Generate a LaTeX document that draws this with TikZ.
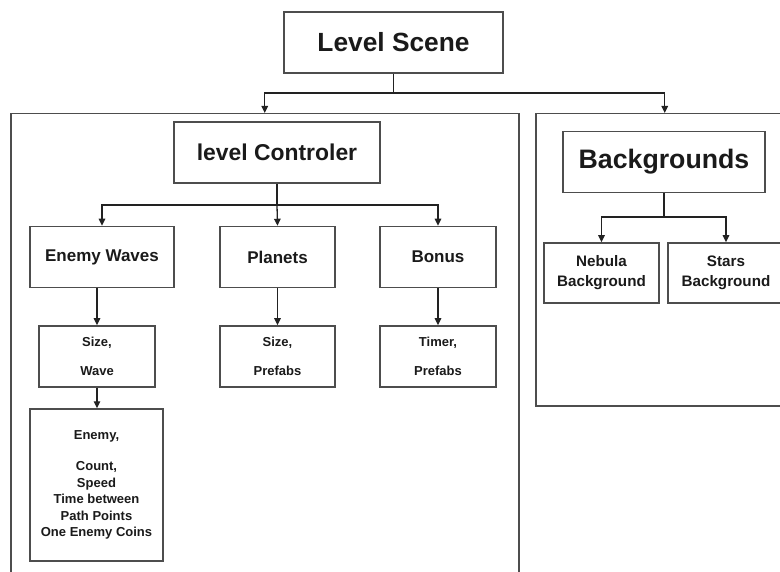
\documentclass[tikz,border=0pt]{standalone}
\usepackage{fontspec}
\setmainfont{Liberation Sans}
\usetikzlibrary{arrows.meta}
\definecolor{edge}{HTML}{4D4D4D}
\definecolor{ink}{HTML}{1A1A1A}
\begin{document}
\begin{tikzpicture}[x=1pt,y=-1pt,
  box/.style={draw=edge, line width=1.5pt, inner sep=0pt, align=center,
    text=ink, font=\bfseries},
  frame/.style={draw=edge, line width=1.5pt, inner sep=0pt, anchor=north west},
  link/.style={draw=ink!85!edge, line width=1.3pt},
  arr/.style={link, -{Triangle[length=7pt,width=6.5pt]}}]
\clip (0,0) rectangle (780,572);
\fill[white] (0,0) rectangle (780,572);

% outer frames
\node[frame, minimum width=508pt, minimum height=480pt] (left) at (10,113) {};
\node[frame, minimum width=258pt, minimum height=292pt] (right) at (535,113) {};

% top level
\node[box, minimum width=219pt, minimum height=61pt,
  font=\bfseries\fontsize{26.3}{30}\selectfont] (scene) at (393.5,42.5) {Level Scene};

% left branch
\node[box, minimum width=206pt, minimum height=61pt,
  font=\bfseries\fontsize{22.9}{26}\selectfont] (ctrl) at (277,152.5) {level Controler};
\node[box, minimum width=144pt, minimum height=61pt,
  font=\bfseries\fontsize{17}{20}\selectfont] (waves) at (102,257) {Enemy Waves};
\node[box, minimum width=115pt, minimum height=61pt,
  font=\bfseries\fontsize{17}{20}\selectfont] (planets) at (277.5,257) {Planets};
\node[box, minimum width=116pt, minimum height=61pt,
  font=\bfseries\fontsize{17}{20}\selectfont] (bonus) at (438,257) {Bonus};

\node[box, minimum width=116pt, minimum height=61pt,
  font=\bfseries\fontsize{13}{15}\selectfont] (wsize) at (97,356.5) {Size,\\[14pt]Wave};
\node[box, minimum width=115pt, minimum height=61pt,
  font=\bfseries\fontsize{13}{15}\selectfont] (psize) at (277.5,356.5) {Size,\\[14pt]Prefabs};
\node[box, minimum width=116pt, minimum height=61pt,
  font=\bfseries\fontsize{13}{15}\selectfont] (btimer) at (438,356.5) {Timer,\\[14pt]Prefabs};

\node[box, minimum width=133pt, minimum height=152pt,
  font=\bfseries\fontsize{13}{16.6}\selectfont] (enemy) at (96.5,485)
  {Enemy,\\[14.5pt]Count,\\Speed\\Time between\\Path Points\\One Enemy Coins};

% right branch
\node[box, minimum width=202pt, minimum height=61pt,
  font=\bfseries\fontsize{26.7}{30}\selectfont] (bg) at (664,162) {Backgrounds};
\node[box, minimum width=115pt, minimum height=60pt,
  font=\bfseries\fontsize{15.2}{20}\selectfont] (nebula) at (601.5,273) {Nebula\\Background};
\node[box, minimum width=116pt, minimum height=60pt,
  font=\bfseries\fontsize{15.2}{20}\selectfont] (stars) at (726,273) {Stars\\Background};

% junction points
\coordinate (j0) at (393.5,93);
\coordinate (j1) at (277,205);
\coordinate (j2) at (664,217);

% connectors
\draw[link] (scene.south) -- (j0);
\draw[arr] (j0) -| (left.north);
\draw[arr] (j0) -| (right.north);

\draw[link] (ctrl.south) -- (j1);
\draw[arr] (j1) -| (waves.north);
\draw[arr] (j1) -- (planets.north);
\draw[arr] (j1) -| (bonus.north);

\draw[arr] (waves.south -| wsize.north) -- (wsize.north);
\draw[arr] (planets.south) -- (psize.north);
\draw[arr] (bonus.south) -- (btimer.north);
\draw[arr] (wsize.south) -- (enemy.north -| wsize.south);

\draw[link] (bg.south) -- (j2);
\draw[arr] (j2) -| (nebula.north);
\draw[arr] (j2) -| (stars.north);
\end{tikzpicture}
\end{document}
